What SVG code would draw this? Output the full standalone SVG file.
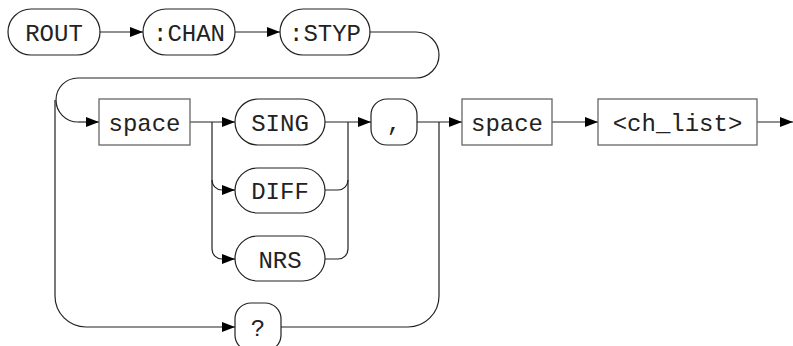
<svg xmlns="http://www.w3.org/2000/svg" width="793" height="346" viewBox="0 0 793 346">
<style>
.pill{fill:#fff;stroke:#222;stroke-width:1.2}
.box{fill:#fff;stroke:#666;stroke-width:1.3}
.lbl{font-family:"Liberation Mono",monospace;font-size:24px;fill:#222;text-anchor:middle}
.wire{fill:none;stroke:#222;stroke-width:1.2}
.arr{fill:none;stroke:#222;stroke-width:1.2;marker-end:url(#ah)}
</style>
<defs>
<marker id="ah" markerUnits="userSpaceOnUse" viewBox="0 0 13 10" markerWidth="13" markerHeight="10" refX="13" refY="5" orient="auto">
<path d="M0,0 L13,5 L0,10 z" fill="#000"/>
</marker>
</defs>
<rect width="793" height="346" fill="#fff"/>
<g id="connectors">
<path class="arr" d="M100,32 H143"/>
<path class="arr" d="M235,32 H280"/>
<path class="wire" d="M370,32 H416 A23,23 0 0 1 416,78 H78 A22,22 0 0 0 78,122"/>
<path class="arr" d="M78,122 H99"/>
<path class="wire" d="M55,100 V296 A31,31 0 0 0 86,327"/>
<path class="arr" d="M86,327 H235"/>
<path class="arr" d="M190,122 H235"/>
<path class="wire" d="M212,122 V249 A10,10 0 0 0 222,259"/>
<path class="wire" d="M212,180 A10,10 0 0 0 222,190"/>
<path class="arr" d="M222,190 H235"/>
<path class="arr" d="M222,259 H235"/>
<path class="arr" d="M325,122 H371"/>
<path class="wire" d="M325,190 H338 A10,10 0 0 0 348,180 V122"/>
<path class="wire" d="M325,259 H338 A10,10 0 0 0 348,249 V180"/>
<path class="arr" d="M417,122 H462"/>
<path class="wire" d="M281,327 H408 A31,31 0 0 0 439,296 V122"/>
<path class="arr" d="M552,122 H598"/>
<path class="arr" d="M757,122 H793"/>
</g>
<g id="n_rout"><rect class="pill" x="8" y="9" width="92" height="46" rx="23"/><text class="lbl" x="54" y="40.5">ROUT</text></g>
<g id="n_chan"><rect class="pill" x="143" y="9" width="92" height="46" rx="23"/><text class="lbl" x="189" y="40.5">:CHAN</text></g>
<g id="n_styp"><rect class="pill" x="280" y="9" width="90" height="46" rx="23"/><text class="lbl" x="325" y="40.5">:STYP</text></g>
<g id="n_space1"><rect class="box" x="99" y="99" width="91" height="46"/><text class="lbl" x="144.5" y="130.5">space</text></g>
<g id="n_sing"><rect class="pill" x="235" y="99" width="90" height="46" rx="23"/><text class="lbl" x="280" y="130.5">SING</text></g>
<g id="n_diff"><rect class="pill" x="235" y="168" width="90" height="45" rx="22.5"/><text class="lbl" x="280" y="199">DIFF</text></g>
<g id="n_nrs"><rect class="pill" x="235" y="236" width="90" height="45" rx="22.5"/><text class="lbl" x="280" y="267.5">NRS</text></g>
<g id="n_comma"><rect class="pill" x="371" y="99" width="46" height="46" rx="16"/><text class="lbl" x="394" y="130.5">,</text></g>
<g id="n_query"><rect class="pill" x="235" y="303" width="46" height="48" rx="16"/><text class="lbl" x="258" y="335.5">?</text></g>
<g id="n_space2"><rect class="box" x="462" y="99" width="90" height="46"/><text class="lbl" x="507" y="130.5">space</text></g>
<g id="n_chlist"><rect class="box" x="598" y="99" width="159" height="46"/><text class="lbl" x="677.5" y="130.5">&lt;ch_list&gt;</text></g>
</svg>
